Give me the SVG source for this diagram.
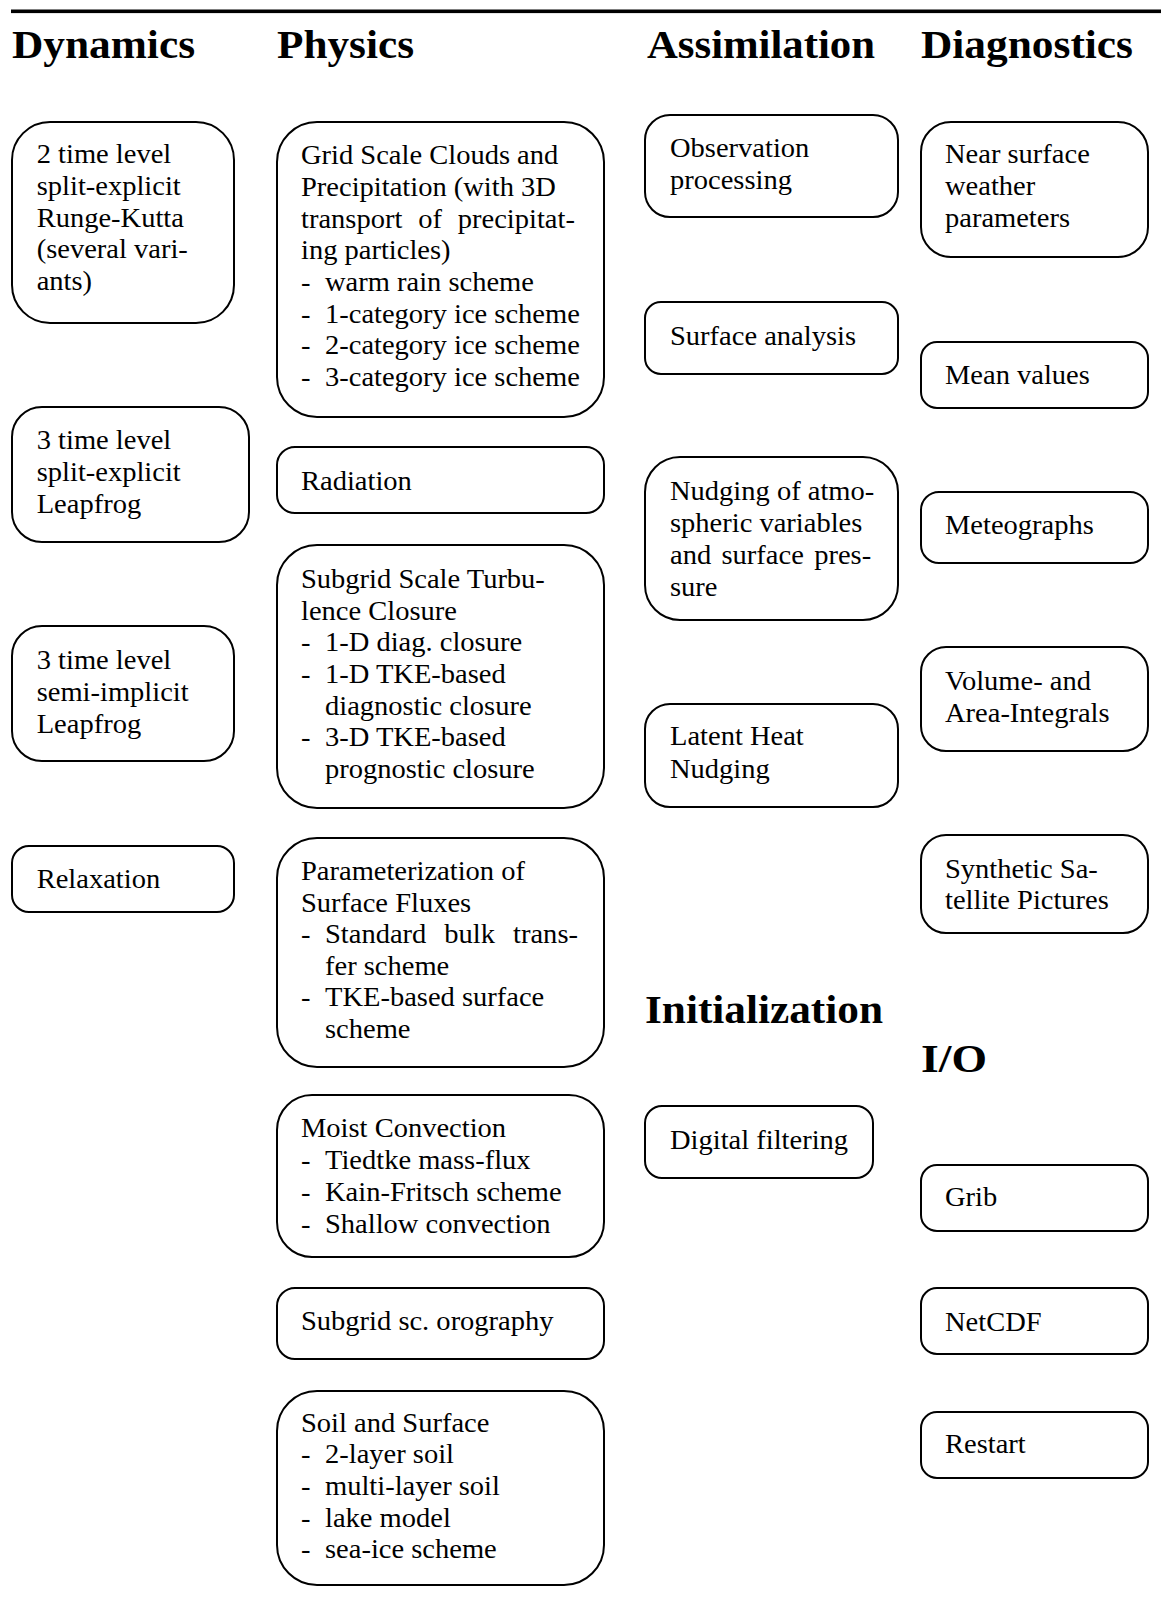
<svg xmlns="http://www.w3.org/2000/svg" width="1161" height="1597" viewBox="0 0 1161 1597">
<style>
.box{fill:#fff;stroke:#000;stroke-width:2}
.t{font-family:"Liberation Serif","Times New Roman",serif;font-size:26.4px;fill:#000}
.h{font-family:"Liberation Serif","Times New Roman",serif;font-weight:bold;font-size:40px;fill:#000}
</style>
<rect x="11" y="9.5" width="1150" height="3.6" fill="#000"/>
<g id="headings">
<text class="h" x="12" y="58" textLength="183" lengthAdjust="spacingAndGlyphs">Dynamics</text>
<text class="h" x="277" y="58" textLength="137" lengthAdjust="spacingAndGlyphs">Physics</text>
<text class="h" x="647" y="58" textLength="228" lengthAdjust="spacingAndGlyphs">Assimilation</text>
<text class="h" x="921" y="58" textLength="212" lengthAdjust="spacingAndGlyphs">Diagnostics</text>
<text class="h" x="645" y="1023" textLength="238" lengthAdjust="spacingAndGlyphs">Initialization</text>
<text class="h" x="921" y="1072" textLength="66" lengthAdjust="spacingAndGlyphs">I/O</text>
</g>
<g id="connectors"/>

<g id="dyn-rk">
<rect class="box" x="12" y="122" width="222" height="201" rx="38"/>
<g transform="scale(1.08 1)" class="t">
<text x="33.98" y="163">2 time level</text>
<text x="33.98" y="195">split-explicit</text>
<text x="33.98" y="227">Runge-Kutta</text>
<text x="33.98" y="258">(several vari-</text>
<text x="33.98" y="290">ants)</text>
</g></g>
<g id="dyn-lf-se">
<rect class="box" x="12" y="407" width="237" height="135" rx="30"/>
<g transform="scale(1.08 1)" class="t">
<text x="33.98" y="449">3 time level</text>
<text x="33.98" y="481">split-explicit</text>
<text x="33.98" y="513">Leapfrog</text>
</g></g>
<g id="dyn-lf-si">
<rect class="box" x="12" y="626" width="222" height="135" rx="30"/>
<g transform="scale(1.08 1)" class="t">
<text x="33.98" y="669">3 time level</text>
<text x="33.98" y="701">semi-implicit</text>
<text x="33.98" y="733">Leapfrog</text>
</g></g>
<g id="dyn-relax">
<rect class="box" x="12" y="846" width="222" height="66" rx="17"/>
<g transform="scale(1.08 1)" class="t">
<text x="33.98" y="888">Relaxation</text>
</g></g>

<g id="phy-clouds">
<rect class="box" x="277" y="122" width="327" height="295" rx="40"/>
<g transform="scale(1.08 1)" class="t">
<text x="278.7" y="164">Grid Scale Clouds and</text>
<text x="278.7" y="196">Precipitation (with 3D</text>
<text x="278.7" y="228" word-spacing="8.1">transport of precipitat-</text>
<text x="278.7" y="259">ing particles)</text>
<text y="291"><tspan x="278.7">-</tspan><tspan x="300.93">warm rain scheme</tspan></text>
<text y="323"><tspan x="278.7">-</tspan><tspan x="300.93">1-category ice scheme</tspan></text>
<text y="354"><tspan x="278.7">-</tspan><tspan x="300.93">2-category ice scheme</tspan></text>
<text y="386"><tspan x="278.7">-</tspan><tspan x="300.93">3-category ice scheme</tspan></text>
</g></g>
<g id="phy-radiation">
<rect class="box" x="277" y="447" width="327" height="66" rx="18"/>
<g transform="scale(1.08 1)" class="t">
<text x="278.7" y="490">Radiation</text>
</g></g>
<g id="phy-turbulence">
<rect class="box" x="277" y="545" width="327" height="263" rx="40"/>
<g transform="scale(1.08 1)" class="t">
<text x="278.7" y="588">Subgrid Scale Turbu-</text>
<text x="278.7" y="620">lence Closure</text>
<text y="651"><tspan x="278.7">-</tspan><tspan x="300.93">1-D diag. closure</tspan></text>
<text y="683"><tspan x="278.7">-</tspan><tspan x="300.93">1-D TKE-based</tspan></text>
<text x="300.93" y="715">diagnostic closure</text>
<text y="746"><tspan x="278.7">-</tspan><tspan x="300.93">3-D TKE-based</tspan></text>
<text x="300.93" y="778">prognostic closure</text>
</g></g>
<g id="phy-fluxes">
<rect class="box" x="277" y="838" width="327" height="229" rx="40"/>
<g transform="scale(1.08 1)" class="t">
<text x="278.7" y="880">Parameterization of</text>
<text x="278.7" y="912">Surface Fluxes</text>
<text y="943"><tspan x="278.7">-</tspan><tspan x="300.93" word-spacing="10.1">Standard bulk trans-</tspan></text>
<text x="300.93" y="975">fer scheme</text>
<text y="1006"><tspan x="278.7">-</tspan><tspan x="300.93">TKE-based surface</tspan></text>
<text x="300.93" y="1038">scheme</text>
</g></g>
<g id="phy-convection">
<rect class="box" x="277" y="1095" width="327" height="162" rx="35"/>
<g transform="scale(1.08 1)" class="t">
<text x="278.7" y="1137">Moist Convection</text>
<text y="1169"><tspan x="278.7">-</tspan><tspan x="300.93">Tiedtke mass-flux</tspan></text>
<text y="1201"><tspan x="278.7">-</tspan><tspan x="300.93">Kain-Fritsch scheme</tspan></text>
<text y="1233"><tspan x="278.7">-</tspan><tspan x="300.93">Shallow convection</tspan></text>
</g></g>
<g id="phy-orography">
<rect class="box" x="277" y="1288" width="327" height="71" rx="18"/>
<g transform="scale(1.08 1)" class="t">
<text x="278.7" y="1330">Subgrid sc. orography</text>
</g></g>
<g id="phy-soil">
<rect class="box" x="277" y="1391" width="327" height="194" rx="40"/>
<g transform="scale(1.08 1)" class="t">
<text x="278.7" y="1432">Soil and Surface</text>
<text y="1463"><tspan x="278.7">-</tspan><tspan x="300.93">2-layer soil</tspan></text>
<text y="1495"><tspan x="278.7">-</tspan><tspan x="300.93">multi-layer soil</tspan></text>
<text y="1527"><tspan x="278.7">-</tspan><tspan x="300.93">lake model</tspan></text>
<text y="1558"><tspan x="278.7">-</tspan><tspan x="300.93">sea-ice scheme</tspan></text>
</g></g>

<g id="ass-obs">
<rect class="box" x="645" y="115" width="253" height="102" rx="25"/>
<g transform="scale(1.08 1)" class="t">
<text x="620.37" y="157">Observation</text>
<text x="620.37" y="189">processing</text>
</g></g>
<g id="ass-surface">
<rect class="box" x="645" y="302" width="253" height="72" rx="16"/>
<g transform="scale(1.08 1)" class="t">
<text x="620.37" y="345">Surface analysis</text>
</g></g>
<g id="ass-nudging">
<rect class="box" x="645" y="457" width="253" height="163" rx="35"/>
<g transform="scale(1.08 1)" class="t">
<text x="620.37" y="500">Nudging of atmo-</text>
<text x="620.37" y="532">spheric variables</text>
<text x="620.37" y="564" word-spacing="3">and surface pres-</text>
<text x="620.37" y="596">sure</text>
</g></g>
<g id="ass-lhn">
<rect class="box" x="645" y="704" width="253" height="103" rx="25"/>
<g transform="scale(1.08 1)" class="t">
<text x="620.37" y="745">Latent Heat</text>
<text x="620.37" y="778">Nudging</text>
</g></g>
<g id="ini-dfi">
<rect class="box" x="645" y="1106" width="228" height="72" rx="17"/>
<g transform="scale(1.08 1)" class="t">
<text x="620.37" y="1149">Digital filtering</text>
</g></g>

<g id="dia-near">
<rect class="box" x="921" y="122" width="227" height="135" rx="30"/>
<g transform="scale(1.08 1)" class="t">
<text x="875" y="163">Near surface</text>
<text x="875" y="195">weather</text>
<text x="875" y="227">parameters</text>
</g></g>
<g id="dia-mean">
<rect class="box" x="921" y="342" width="227" height="66" rx="16"/>
<g transform="scale(1.08 1)" class="t">
<text x="875" y="384">Mean values</text>
</g></g>
<g id="dia-meteo">
<rect class="box" x="921" y="492" width="227" height="71" rx="18"/>
<g transform="scale(1.08 1)" class="t">
<text x="875" y="534">Meteographs</text>
</g></g>
<g id="dia-volume">
<rect class="box" x="921" y="647" width="227" height="104" rx="25"/>
<g transform="scale(1.08 1)" class="t">
<text x="875" y="690">Volume- and</text>
<text x="875" y="722">Area-Integrals</text>
</g></g>
<g id="dia-satellite">
<rect class="box" x="921" y="835" width="227" height="98" rx="25"/>
<g transform="scale(1.08 1)" class="t">
<text x="875" y="878">Synthetic Sa-</text>
<text x="875" y="909">tellite Pictures</text>
</g></g>
<g id="io-grib">
<rect class="box" x="921" y="1165" width="227" height="66" rx="16"/>
<g transform="scale(1.08 1)" class="t">
<text x="875" y="1206">Grib</text>
</g></g>
<g id="io-netcdf">
<rect class="box" x="921" y="1288" width="227" height="66" rx="16"/>
<g transform="scale(1.08 1)" class="t">
<text x="875" y="1331">NetCDF</text>
</g></g>
<g id="io-restart">
<rect class="box" x="921" y="1412" width="227" height="66" rx="16"/>
<g transform="scale(1.08 1)" class="t">
<text x="875" y="1453">Restart</text>
</g></g>
</svg>
